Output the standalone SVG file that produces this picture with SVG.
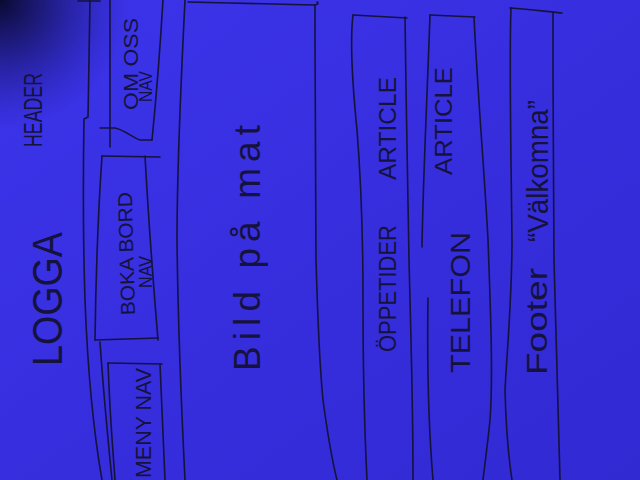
<svg xmlns="http://www.w3.org/2000/svg" width="640" height="480" viewBox="0 0 640 480">
<defs>
<style>
.ink{fill:none;stroke:#15123c;stroke-width:1.6;stroke-linecap:round;stroke-linejoin:round}
.t{font-family:"Liberation Sans",Arial,sans-serif;fill:#15123c}
</style>
<linearGradient id="bg" x1="0" y1="0" x2="1" y2="1">
<stop offset="0" stop-color="#3c34ea"/>
<stop offset="1" stop-color="#3129d2"/>
</linearGradient>
<radialGradient id="shade" cx="0" cy="0" r="130" gradientUnits="userSpaceOnUse">
<stop offset="0" stop-color="#080826" stop-opacity="0.95"/>
<stop offset="0.45" stop-color="#0c0c40" stop-opacity="0.5"/>
<stop offset="1" stop-color="#1a1680" stop-opacity="0"/>
</radialGradient>
</defs>
<rect width="640" height="480" fill="url(#bg)"/>
<rect width="640" height="480" fill="url(#shade)"/>

<g id="header">
<path class="ink" d="M78,1 L100,1"/>
<path class="ink" d="M90,0 C89,60 88,100 88,117 L84,119 C83,180 83,240 85,300 C88,380 95,440 102,480"/>
<text class="t" font-size="25" textLength="74" lengthAdjust="spacingAndGlyphs" transform="translate(42,147) rotate(-90)">HEADER</text>
</g>

<g id="logga">
<text class="t" font-size="42" textLength="134" lengthAdjust="spacingAndGlyphs" transform="translate(62,366) rotate(-90)">LOGGA</text>
</g>

<g id="om-oss-nav">
<path class="ink" d="M110,0 L110,147"/>
<path class="ink" d="M100,128 L115,128 C125,130 133,138 140,140 L152,140"/>
<path class="ink" d="M152,140 C156,100 160,50 163,0"/>
<text class="t" font-size="20" textLength="92" lengthAdjust="spacingAndGlyphs" transform="translate(138,110) rotate(-90)">OM OSS</text>
<text class="t" font-size="19" textLength="31" lengthAdjust="spacingAndGlyphs" transform="translate(152,102) rotate(-90)">NAV</text>
</g>

<g id="boka-bord-nav">
<path class="ink" d="M102,156 L160,157"/>
<path class="ink" d="M102,156 C99,200 96,260 95,340"/>
<path class="ink" d="M145,156 C148,210 153,280 158,340"/>
<path class="ink" d="M95,340 L158,338"/>
<text class="t" font-size="20" textLength="123" lengthAdjust="spacingAndGlyphs" transform="translate(135,315) rotate(-91.5)">BOKA BORD</text>
<text class="t" font-size="19" textLength="32" lengthAdjust="spacingAndGlyphs" transform="translate(152,288) rotate(-90)">NAV</text>
</g>

<g id="meny-nav">
<path class="ink" d="M100,342 C104,400 108,440 112,480"/>
<path class="ink" d="M108,363 L162,364"/>
<path class="ink" d="M108,363 C110,420 113,450 115,480"/>
<path class="ink" d="M160,364 C162,410 164,450 165,480"/>
<text class="t" font-size="22" textLength="110" lengthAdjust="spacingAndGlyphs" transform="translate(151,478) rotate(-90)">MENY NAV</text>
</g>

<g id="bild">
<path class="ink" d="M188,2 C230,3 280,4 313,5 C318,5 319,3 317,2"/>
<path class="ink" d="M185,0 C181,80 177,180 177,240 C178,330 182,420 185,480"/>
<path class="ink" d="M315,5 C315,100 315,200 316,260 C318,330 321,380 323,400 C327,430 332,460 337,480"/>
<text class="t" font-size="37" textLength="246" transform="translate(260,371) rotate(-90)">Bild på mat</text>
</g>

<g id="oppetider-article">
<path class="ink" d="M353,15 L407,18"/>
<path class="ink" d="M353,15 C350,40 352,80 357,130 C361,180 363,220 363,300 C363,380 365,440 367,480"/>
<path class="ink" d="M405,17 C406,100 408,200 409,260 C411,340 413,400 413,480"/>
<text class="t" font-size="23" transform="translate(396,352) rotate(-90)"><tspan x="0" textLength="127" lengthAdjust="spacingAndGlyphs">ÖPPETIDER</tspan><tspan x="172" textLength="103" lengthAdjust="spacingAndGlyphs">ARTICLE</tspan></text>
</g>

<g id="telefon-article">
<path class="ink" d="M430,15 L475,17"/>
<path class="ink" d="M430,15 C427,100 423,180 422,247"/>
<path class="ink" d="M428,298 C427,360 428,420 433,480"/>
<path class="ink" d="M474,17 C478,100 485,180 488,240 C491,320 493,380 490,420 C487,450 484,470 483,480"/>
<text class="t" font-size="28" textLength="141" lengthAdjust="spacingAndGlyphs" transform="translate(470,373) rotate(-90)">TELEFON</text>
<text class="t" font-size="23" textLength="108" lengthAdjust="spacingAndGlyphs" transform="translate(452,175) rotate(-90)">ARTICLE</text>
</g>

<g id="footer">
<path class="ink" d="M510,8 C530,9 550,12 562,13"/>
<path class="ink" d="M511,8 C509,60 511,150 512,240 C512,300 507,350 505,390 C506,430 509,460 512,480"/>
<path class="ink" d="M553,13 C553,100 553,200 554,260 C556,340 558,410 560,480"/>
<text class="t" font-size="30" textLength="107" lengthAdjust="spacingAndGlyphs" transform="translate(547,375) rotate(-90)">Footer</text>
<text class="t" font-size="30" textLength="142" lengthAdjust="spacingAndGlyphs" transform="translate(548,242) rotate(-90)">“Välkomna”</text>
</g>

<g id="connectors"/>
</svg>
